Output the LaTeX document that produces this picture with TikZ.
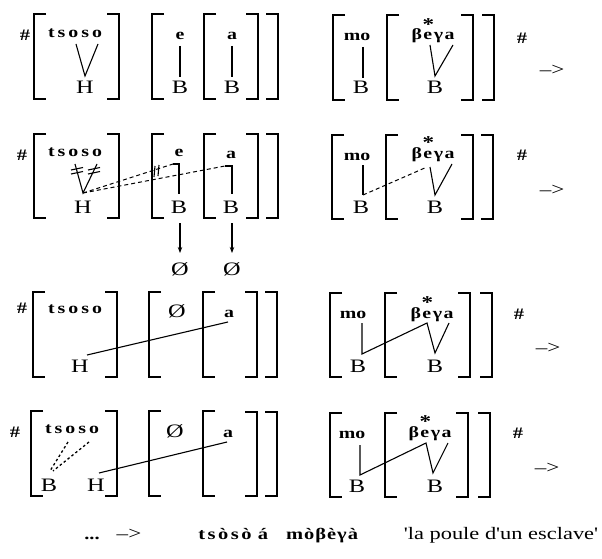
\documentclass[tikz,border=0pt]{standalone}
\usepackage{fontspec}
\setmainfont{Liberation Serif}[FakeStretch=1.28]
\newfontfamily\glosfont{Liberation Serif}[FakeStretch=1.28]
\usetikzlibrary{arrows.meta}
\newcommand\mylb[3]{\draw[brk] (#1+12,#2) -- (#1,#2) -- (#1,#3) -- (#1+12,#3);}
\newcommand\myrb[3]{\draw[brk] (#1-12,#2) -- (#1,#2) -- (#1,#3) -- (#1-12,#3);}
\newcommand\tsoso{t\kern3pt s\kern3pt o\kern3pt s\kern3pt o}
\newcommand\estar{\rlap{\kern-0.06em\raisebox{0.6em}{\fontsize{18}{18}\selectfont *}}e}
\newcommand\beya{β\kern1.5pt \estar\kern1.5pt γ\kern1.5pt a}
\begin{document}
\begin{tikzpicture}[x=1pt,y=-1pt,
  brk/.style={line width=1.7pt},
  assoc/.style={line width=1.1pt},
  dsh/.style={line width=1pt,dash pattern=on 4pt off 3pt},
  dots/.style={line width=1.3pt,dash pattern=on 2.5pt off 2.5pt},
  vow/.style={font=\fontsize{15.5}{15.5}\selectfont\bfseries,inner sep=0pt,anchor=base},
  tone/.style={font=\fontsize{19}{19}\selectfont,inner sep=0pt,anchor=base},
  hsh/.style={font=\fontsize{16}{16}\selectfont\bfseries,inner sep=0pt},
  arr/.style={font=\fontsize{18}{18}\selectfont,inner sep=0pt},
  bot/.style={font=\fontsize{16}{16}\selectfont\bfseries,inner sep=0pt,anchor=base},
  glos/.style={font=\glosfont\fontsize{17.5}{17.5}\selectfont,inner sep=0pt,anchor=base}]
\useasboundingbox (0,0) rectangle (602,559);

% ================= Row 1 =================
\mylb{34}{14}{99} \myrb{119}{14}{99}
\mylb{152}{14}{99} \mylb{204}{14}{99} \myrb{258}{14}{99} \myrb{278}{14}{99}
\mylb{333}{15}{100} \mylb{387}{15}{100} \myrb{473}{15}{100} \myrb{494}{15}{100}
\node[hsh] (h1l) at (25,35) {\#};
\node[vow] (r1ts) at (75,38) {\tsoso};
\node[tone] (r1H) at (85,94) {H};
\node[vow] (r1e) at (180,40) {e};
\node[tone] (r1Be) at (180,94) {B};
\node[vow] (r1a) at (232,40) {a};
\node[tone] (r1Ba) at (232,94) {B};
\node[vow] (r1mo) at (357,41) {mo};
\node[tone] (r1Bm) at (361,94) {B};
\node[vow] (r1be) at (433,40) {\beya};
\node[tone] (r1Bb) at (435,94) {B};
\node[hsh] (h1r) at (522,38) {\#};
\node[arr] (a1) at (552,70) {–>};
\coordinate (c1a) at (76,44); \coordinate (c1b) at (85,76); \coordinate (c1c) at (98,44);
\draw[assoc] (c1a) -- (c1b) -- (c1c);
\coordinate (c1e1) at (180,46); \coordinate (c1e2) at (180,77);
\draw[assoc] (c1e1) -- (c1e2);
\coordinate (c1a1) at (232,46); \coordinate (c1a2) at (232,77);
\draw[assoc] (c1a1) -- (c1a2);
\coordinate (c1m1) at (363,47); \coordinate (c1m2) at (363,78);
\draw[assoc] (c1m1) -- (c1m2);
\coordinate (c1v1) at (430,45); \coordinate (c1v2) at (435,76); \coordinate (c1v3) at (453,45);
\draw[assoc] (c1v1) -- (c1v2) -- (c1v3);

% ================= Row 2 =================
\mylb{34}{134}{218} \myrb{119}{134}{218}
\mylb{152}{134}{218} \mylb{204}{134}{218} \myrb{258}{134}{218} \myrb{278}{134}{218}
\mylb{332}{135}{219} \mylb{386}{135}{219} \myrb{473}{135}{219} \myrb{493}{135}{219}
\node[hsh] (h2l) at (22,155) {\#};
\node[vow] (r2ts) at (75,157) {\tsoso};
\node[tone] (r2H) at (83,213) {H};
\node[vow] (r2e) at (179,157) {e};
\node[tone] (r2Be) at (179,213) {B};
\node[vow] (r2a) at (231,158) {a};
\node[tone] (r2Ba) at (231,213) {B};
\node[vow] (r2mo) at (357,160) {mo};
\node[tone] (r2Bm) at (361,213) {B};
\node[vow] (r2be) at (433,158) {\beya};
\node[tone] (r2Bb) at (435,213) {B};
\node[hsh] (h2r) at (522,155) {\#};
\node[arr] (a2) at (552,190) {–>};
% delinked V of tsoso
\coordinate (c2a) at (75,164); \coordinate (c2b) at (83,193); \coordinate (c2c) at (97,164);
\draw[assoc] (c2a) -- (c2b) -- (c2c);
\draw[assoc] (71,170) -- (83,167.5); \draw[assoc] (71,174) -- (83,171.5);
\draw[assoc] (88,170) -- (100,167.5); \draw[assoc] (88,174) -- (100,171.5);
% e and a links
\coordinate (c2e0) at (173,164); \coordinate (c2e1) at (179,164); \coordinate (c2e2) at (179,194);
\draw[assoc] (c2e0) -- (c2e1) -- (c2e2);
\coordinate (c2a0) at (225,166); \coordinate (c2a1) at (232,166); \coordinate (c2a2) at (232,194);
\draw[assoc] (c2a0) -- (c2a1) -- (c2a2);
% dashed spreading lines
\draw[dsh] (c2b) -- (c2e0);
\draw[dsh] (c2b) -- (c2a0);
\draw[assoc] (155,166) -- (154,177); \draw[assoc] (159,165) -- (158,176);
% arrows to zero
\node[tone] (z1) at (180,275) {Ø};
\node[tone] (z2) at (232,275) {Ø};
\coordinate (ar1a) at (180,223); \coordinate (ar1b) at (180,253);
\coordinate (ar2a) at (232,223); \coordinate (ar2b) at (232,253);
\draw[assoc,-{Stealth[length=6pt,width=4.5pt]}] (ar1a) -- (ar1b);
\draw[assoc,-{Stealth[length=6pt,width=4.5pt]}] (ar2a) -- (ar2b);
% mo and beya
\coordinate (c2m1) at (363,165); \coordinate (c2m2) at (363,195);
\draw[assoc] (c2m1) -- (c2m2);
\coordinate (c2ee) at (427,167);
\draw[dsh] (c2m2) -- (c2ee);
\coordinate (c2v1) at (430,167); \coordinate (c2v2) at (435,195); \coordinate (c2v3) at (452,164);
\draw[assoc] (c2v1) -- (c2v2) -- (c2v3);

% ================= Row 3 =================
\mylb{33}{292}{377} \myrb{117}{292}{377}
\mylb{149}{292}{377} \mylb{203}{292}{377} \myrb{257}{292}{377} \myrb{277}{292}{377}
\mylb{330}{293}{377} \mylb{385}{293}{377} \myrb{470}{293}{377} \myrb{492}{293}{377}
\node[hsh] (h3l) at (22,308) {\#};
\node[vow] (r3ts) at (75,313) {\tsoso};
\node[tone] (r3H) at (80,372) {H};
\node[tone] (r3z) at (177,317) {Ø};
\node[vow] (r3a) at (229,317) {a};
\node[vow] (r3mo) at (353,318) {mo};
\node[tone] (r3Bm) at (358,372) {B};
\node[vow] (r3be) at (432,318) {\beya};
\node[tone] (r3Bb) at (435,372) {B};
\node[hsh] (h3r) at (519,314) {\#};
\node[arr] (a3) at (548,348) {–>};
\coordinate (c3h) at (87,355); \coordinate (c3a) at (228,322);
\draw[assoc] (c3h) -- (c3a);
\coordinate (c3z1) at (362,323); \coordinate (c3z2) at (362,354); \coordinate (c3z3) at (427,323);
\coordinate (c3z4) at (435,353); \coordinate (c3z5) at (449,323);
\draw[assoc] (c3z1) -- (c3z2) -- (c3z3) -- (c3z4) -- (c3z5);

% ================= Row 4 =================
\mylb{31}{411}{496} \myrb{117}{411}{496}
\mylb{149}{411}{496} \mylb{203}{411}{496} \myrb{257}{412}{496} \myrb{277}{412}{496}
\mylb{330}{413}{497} \mylb{385}{413}{497} \myrb{468}{413}{497} \myrb{490}{413}{497}
\node[hsh] (h4l) at (15,432) {\#};
\node[vow] (r4ts) at (72,433) {\tsoso};
\node[tone] (r4B) at (49,491) {B};
\node[tone] (r4H) at (96,491) {H};
\node[tone] (r4z) at (175,437) {Ø};
\node[vow] (r4a) at (228,437) {a};
\node[vow] (r4mo) at (352,438) {mo};
\node[tone] (r4Bm) at (357,492) {B};
\node[vow] (r4be) at (430,437) {\beya};
\node[tone] (r4Bb) at (435,492) {B};
\node[hsh] (h4r) at (518,433) {\#};
\node[arr] (a4) at (547,468) {–>};
\coordinate (c4o1) at (68,442); \coordinate (c4o2) at (89,442);
\coordinate (c4b1) at (50,471); \coordinate (c4b2) at (53,471);
\draw[dots] (c4o1) -- (c4b1);
\draw[dots] (c4o2) -- (c4b2);
\coordinate (c4h) at (99,473); \coordinate (c4a) at (227,442);
\draw[assoc] (c4h) -- (c4a);
\coordinate (c4z1) at (360,445); \coordinate (c4z2) at (360,475); \coordinate (c4z3) at (426,443);
\coordinate (c4z4) at (433,473); \coordinate (c4z5) at (448,443);
\draw[assoc] (c4z1) -- (c4z2) -- (c4z3) -- (c4z4) -- (c4z5);

% ================= Result line =================
\node[bot] (dd) at (92,539) {...};
\node[arr,anchor=base] (a5) at (129,539) {–>};
\node[bot] (res1) at (225,539) {t\kern2.5pt s\kern2.5pt ò\kern2.5pt s\kern2.5pt ò};
\node[bot] (res2) at (263,539) {á};
\node[bot] (res3) at (322,539) {m\kern1pt ò\kern1pt β\kern1pt è\kern1pt γ\kern1pt à};
\node[glos] (gl) at (501,539) {'la poule d'un esclave'};
\end{tikzpicture}
\end{document}
